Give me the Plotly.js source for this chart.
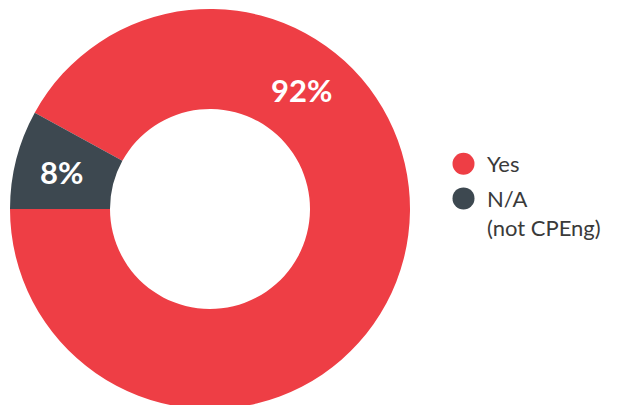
<!DOCTYPE html>
<html>
<head>
<meta charset="utf-8">
<script src="https://cdn.plot.ly/plotly-3.0.1.min.js"></script>
<style>
html, body { margin: 0; padding: 0; overflow: hidden; background: #fff; width: 621px; height: 405px; }
#chart { width: 621px; height: 418px; }
</style>
</head>
<body>
<div id="chart"></div>
<script>
const categories = ["Yes", "N/A<br>(not CPEng)"];
const values = [92, 8];
const colors = ["#EE3E45", "#3D4850"];
const pctLabels = ["92%", "8%"];

const pie = {
  type: "pie",
  labels: categories,
  values: values,
  marker: { colors: colors, line: { width: 0 } },
  hole: 0.5,
  sort: false,
  direction: "clockwise",
  rotation: -90 + values[1] / 100 * 360,
  textinfo: "none",
  hoverinfo: "none",
  showlegend: false,
  domain: { x: [10 / 621, 410 / 621], y: [0, 1] }
};

const legendTraces = categories.map((c, i) => ({
  type: "scatter",
  x: [null], y: [null],
  mode: "markers",
  name: c,
  legendgroup: "g" + i,
  marker: { color: colors[i], size: 16, symbol: "circle" },
  showlegend: true,
  hoverinfo: "none"
}));

const H = 418;
const layout = {
  width: 621, height: H,
  margin: { l: 0, r: 0, t: 0, b: 0 },
  paper_bgcolor: "#fff", plot_bgcolor: "#fff",
  xaxis: { visible: false }, yaxis: { visible: false },
  showlegend: true,
  legend: {
    x: 440 / 621, y: 1 - 143 / H, xanchor: "left", yanchor: "top",
    font: { family: "Lato, sans-serif", size: 22, color: "#3a3a3a" },
    itemsizing: "trace", itemwidth: 37, valign: "top", tracegroupgap: 3,
    bgcolor: "rgba(0,0,0,0)"
  },
  annotations: [
    { text: "<b>" + pctLabels[0] + "</b>", x: 301 / 621, y: 1 - 90 / H, xref: "paper", yref: "paper",
      xanchor: "center", yanchor: "middle",
      showarrow: false, font: { family: "Lato, sans-serif", size: 31, color: "#fff" } },
    { text: "<b>" + pctLabels[1] + "</b>", x: 61 / 621, y: 1 - 172 / H, xref: "paper", yref: "paper",
      xanchor: "center", yanchor: "middle",
      showarrow: false, font: { family: "Lato, sans-serif", size: 31, color: "#fff" } }
  ]
};

Plotly.newPlot("chart", [pie].concat(legendTraces), layout, { displayModeBar: false, staticPlot: true }).then(() => {
  document.querySelectorAll("#chart .legend .legendpoints path").forEach(p => {
    const t = p.getAttribute("transform") || "";
    p.setAttribute("transform", t + " scale(1.375)");
  });
});
</script>
</body>
</html>
